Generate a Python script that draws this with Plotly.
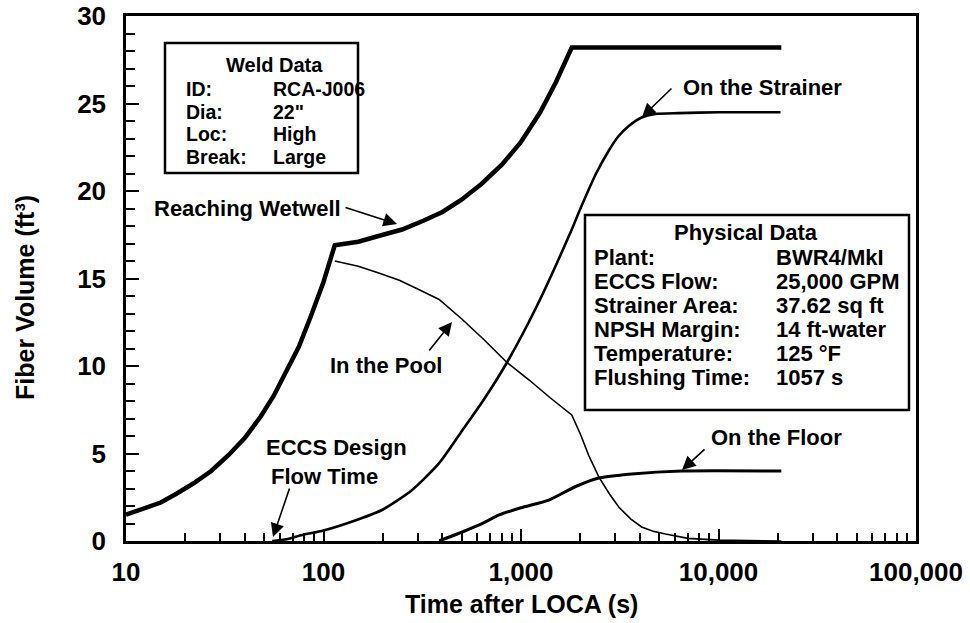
import plotly.graph_objects as go

# ---------------- data ----------------
wetwell_t = [10, 12, 15, 18, 22, 27, 33, 40, 48, 56, 65, 75, 86, 100, 114,
             150, 200, 250, 320, 400, 500, 630, 800, 1000, 1250, 1500, 1807, 20800]
wetwell_v = [1.5, 1.8, 2.2, 2.7, 3.3, 4.0, 4.9, 5.9, 7.1, 8.3, 9.7, 11.1, 12.8, 14.8, 16.9,
             17.1, 17.5, 17.8, 18.3, 18.8, 19.5, 20.4, 21.5, 22.8, 24.5, 26.2, 28.2, 28.2]

pool_t = [114, 150, 192, 242, 300, 385, 500, 650, 849, 1100, 1400, 1807,
          2000, 2200, 2477, 2800, 3126, 3600, 4083, 4700, 5393, 7000, 10000, 20800]
pool_v = [16.0, 15.7, 15.3, 14.9, 14.4, 13.8, 12.7, 11.5, 10.2, 9.2, 8.2, 7.2,
          6.1, 4.9, 3.66, 2.7, 1.94, 1.25, 0.8, 0.55, 0.4, 0.15, 0.05, 0.0]

strainer_t = [55, 65, 78, 100, 147, 200, 280, 385, 503, 650, 849, 1200, 1807,
              2000, 2400, 2780, 3100, 3500, 4083, 4800, 6280, 10000, 20600]
strainer_v = [0.0, 0.1, 0.34, 0.6, 1.2, 1.8, 2.9, 4.45, 6.3, 8.1, 10.2, 13.4, 17.8,
              19.0, 21.0, 22.3, 23.1, 23.7, 24.2, 24.4, 24.45, 24.5, 24.5]

floor_t = [385, 500, 650, 775, 1000, 1383, 1880, 2477, 3640, 6500, 20800]
floor_v = [0.0, 0.5, 1.05, 1.49, 1.9, 2.34, 3.1, 3.6, 3.83, 4.0, 4.0]

x_tickvals = [10, 100, 1000, 10000, 100000]
x_ticktext = ["10", "100", "1,000", "10,000", "100,000"]
y_tickvals = [0, 5, 10, 15, 20, 25, 30]

weld_title = "Weld Data"
weld_labels = ["ID:", "Dia:", "Loc:", "Break:"]
weld_values = ["RCA-J006", "22\"", "High", "Large"]

phys_title = "Physical Data"
phys_labels = ["Plant:", "ECCS Flow:", "Strainer Area:", "NPSH Margin:", "Temperature:", "Flushing Time:"]
phys_values = ["BWR4/MkI", "25,000 GPM", "37.62 sq ft", "14 ft-water", "125 °F", "1057 s"]

# ---------------- figure ----------------
FONT = "Liberation Sans, Arial, Helvetica, sans-serif"
L, R, T, B = 126, 916, 16, 541   # plot frame in page pixels
W, H = 970, 623


def pxx(x):
    return (x - L) / (R - L)


def pxy(y):
    return (B - y) / (B - T)


fig = go.Figure()
for t, v, w, shape in [(wetwell_t, wetwell_v, 4.5, "linear"), (pool_t, pool_v, 1.6, "linear"),
                       (strainer_t, strainer_v, 2.6, "spline"), (floor_t, floor_v, 3.0, "spline")]:
    fig.add_trace(go.Scatter(x=t, y=v, mode="lines",
                             line=dict(color="black", width=w, shape=shape, smoothing=0.6),
                             showlegend=False, hoverinfo="skip"))

minor_x = [m * 10 ** e for e in range(1, 5) for m in range(2, 10)]

fig.update_layout(
    width=W, height=H,
    margin=dict(l=L, r=W - R, t=T, b=H - B, pad=0),
    paper_bgcolor="white", plot_bgcolor="white",
    font=dict(family=FONT, color="black", size=22, weight="bold"),
    showlegend=False,
)

TF = dict(family=FONT, size=26, color="black", weight="bold")

fig.update_xaxes(
    type="log", range=[1, 5], automargin=False,
    tickvals=x_tickvals, ticktext=x_ticktext,
    ticks="inside", ticklen=12, tickwidth=2, tickcolor="black",
    showline=True, linewidth=2.5, linecolor="black", mirror=True,
    showgrid=False, zeroline=False,
    tickfont=TF, ticklabelstandoff=6, ticklabeloverflow="allow",
    minor=dict(ticks="inside", ticklen=8, tickwidth=2, tickcolor="black",
               tickvals=minor_x, showgrid=False),
)

fig.update_yaxes(
    range=[0, 30], tickvals=y_tickvals, automargin=False,
    ticks="inside", ticklen=13, tickwidth=2, tickcolor="black",
    showline=True, linewidth=2.5, linecolor="black", mirror=True,
    showgrid=False, zeroline=False,
    tickfont=TF, ticklabelstandoff=12, ticklabeloverflow="allow",
    minor=dict(ticks="inside", ticklen=9, tickwidth=2, tickcolor="black",
               dtick=1, showgrid=False),
)

ann = []


def text(s, x, y, xanchor="left", size=22, angle=0):
    ann.append(dict(text=s, x=pxx(x), y=pxy(y), xref="paper", yref="paper",
                    xanchor=xanchor, yanchor="middle", showarrow=False, textangle=angle,
                    font=dict(family=FONT, size=size, color="black", weight="bold")))


def arrow(tipx, tipy, tailx, taily):
    ann.append(dict(text="", x=pxx(tipx), y=pxy(tipy), xref="paper", yref="paper",
                    ax=tailx - tipx, ay=taily - tipy, showarrow=True,
                    arrowhead=2, arrowsize=1.7, arrowwidth=1.6, arrowcolor="black"))


# axis titles
text("Time after LOCA (s)", 521, 604, "center", 25)
text("Fiber Volume (ft³)", 25, 298, "center", 25, -90)

# curve labels
text("Reaching Wetwell", 343, 208, "right")
arrow(397, 224, 344, 207)
text("In the Pool", 444, 365, "right")
arrow(452, 322, 428, 352)
text("ECCS Design", 264, 447)
text("Flow Time", 269, 477)
arrow(273, 537, 290, 487)
text("On the Strainer", 681, 88)
arrow(642, 117, 673, 87)
text("On the Floor", 709, 438)
arrow(682, 470, 706, 448)

# Weld data box
text(weld_title, 274, 65, "center", 20)
for i, (lab, val) in enumerate(zip(weld_labels, weld_values)):
    yy = 89 + i * 22.5
    text(lab, 184, yy, "left", 19.5)
    text(val, 271, yy, "left", 19.5)

# Physical data box
text(phys_title, 746, 232, "center", 22)
for i, (lab, val) in enumerate(zip(phys_labels, phys_values)):
    yy = 257 + i * 24
    text(lab, 592, yy, "left", 22)
    text(val, 774, yy, "left", 22)

fig.update_layout(annotations=ann)

fig.add_shape(type="rect", xref="paper", yref="paper",
              x0=pxx(165), x1=pxx(358), y0=pxy(173), y1=pxy(43),
              line=dict(color="black", width=2.5), fillcolor="white", layer="below")
fig.add_shape(type="rect", xref="paper", yref="paper",
              x0=pxx(585), x1=pxx(909), y0=pxy(410), y1=pxy(215),
              line=dict(color="black", width=2.5), fillcolor="white", layer="below")

fig.write_html("out.html", config={"displayModeBar": False},
               post_script="document.body.style.margin='0';document.body.style.overflow='hidden';")
